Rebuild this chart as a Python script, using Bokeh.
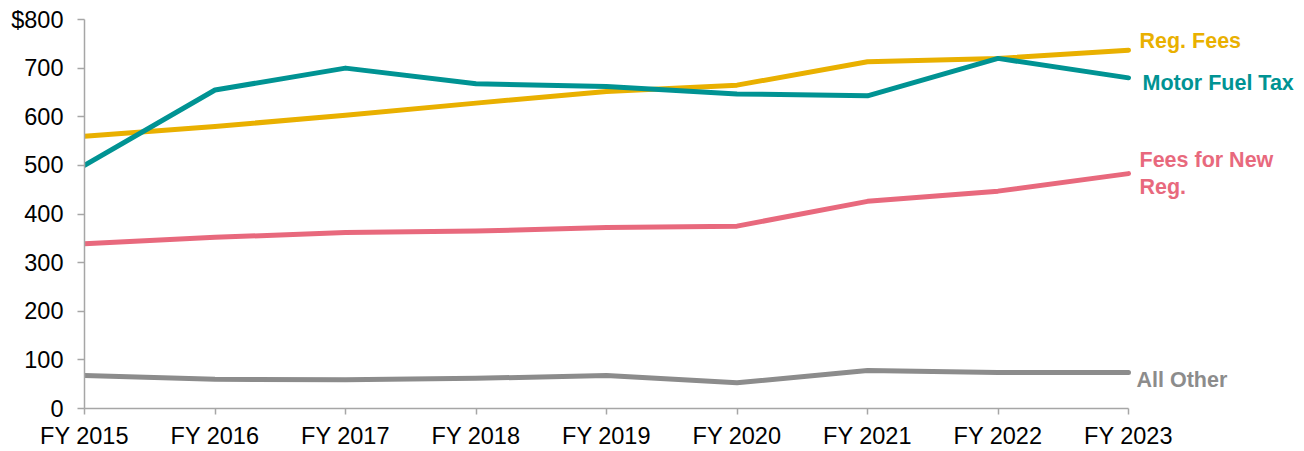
from bokeh.plotting import figure
from bokeh.models import Range1d, FixedTicker
from bokeh.core.properties import value
from bokeh.embed import file_html
from bokeh.resources import INLINE

years = ["FY 2015", "FY 2016", "FY 2017", "FY 2018", "FY 2019", "FY 2020", "FY 2021", "FY 2022", "FY 2023"]
motor_fuel_tax = [500, 655, 700, 668, 662, 647, 643, 720, 680]
reg_fees = [560, 580, 603, 628, 652, 665, 713, 720, 737]
fees_new_reg = [339, 352, 362, 365, 372, 375, 426, 447, 483]
all_other = [68, 60, 59, 62, 68, 53, 78, 74, 74]
y_ticks = [0, 100, 200, 300, 400, 500, 600, 700, 800]

series = [
    ("Reg. Fees", reg_fees, "#E9B000", -9, 11),
    ("Motor Fuel Tax", motor_fuel_tax, "#009393", 5, 14),
    ("Fees for New\nReg.", fees_new_reg, "#E8697D", 0, 11),
    ("All Other", all_other, "#8C8C8C", 7, 8),
]

xs = list(range(len(years)))
px_per_unit = (1128 - 84) / (len(years) - 1)
x_end = (1304 - 84) / px_per_unit

p = figure(width=1304, height=451, output_backend="svg", toolbar_location=None,
           x_range=Range1d(0, x_end), y_range=Range1d(0, 800),
           min_border_left=84, min_border_right=0, min_border_top=19, min_border_bottom=43)
p.outline_line_color = None
p.grid.visible = False
p.background_fill_color = "white"

for name, vals, color, yoff, xoff in series:
    p.line(xs, vals, line_color=color, line_width=5, line_cap="round", line_join="round")
    p.text(x=[xs[-1]], y=[vals[-1]], text=[name], text_color=color,
           text_font=value("Liberation Sans"), text_font_style="bold", text_font_size="21.5px",
           text_baseline="middle", text_align="left", x_offset=xoff, y_offset=yoff,
           text_line_height=1.15)

font = "Liberation Sans"
for ax in (p.xaxis[0], p.yaxis[0]):
    ax.axis_line_color = "#A6A6A6"
    ax.axis_line_width = 1.5
    ax.major_tick_line_color = "#A6A6A6"
    ax.major_tick_line_width = 1.5
    ax.minor_tick_line_color = None
    ax.major_tick_in = 0
    ax.major_label_text_font = font
    ax.major_label_text_font_size = "23.5px"
    ax.major_label_text_color = "#000000"

p.xaxis.bounds = (0, len(years) - 1)
p.xaxis.ticker = FixedTicker(ticks=xs)
p.xaxis.major_label_overrides = {i: y for i, y in enumerate(years)}
p.xaxis.major_tick_out = 6
p.xaxis.major_label_standoff = 8

p.yaxis.ticker = FixedTicker(ticks=y_ticks)
p.yaxis.major_label_overrides = {800: "$800"}
p.yaxis.major_tick_out = 7
p.yaxis.major_label_standoff = 14

open("out.html", "w").write(file_html(p, INLINE))
